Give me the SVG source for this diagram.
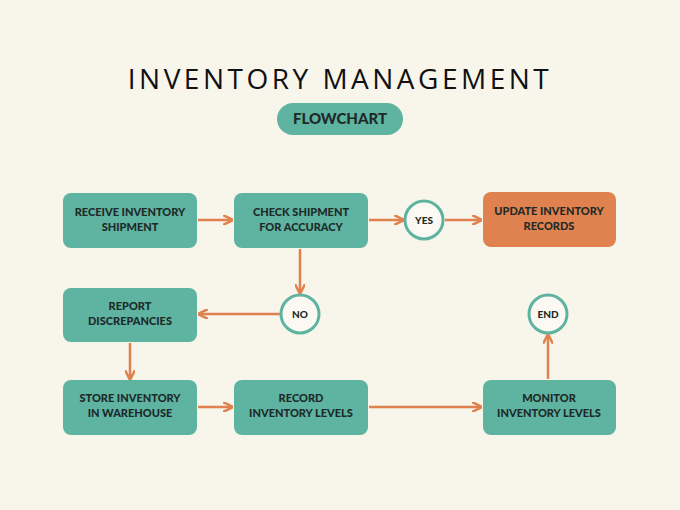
<svg xmlns="http://www.w3.org/2000/svg" width="680" height="510" viewBox="0 0 680 510">
<style>
.box{fill:#5fb3a1}
.t{font-family:"Lato","Liberation Sans",sans-serif;font-weight:900;font-size:11px;fill:#1d2a28;text-anchor:middle}
.s{font-size:10px}
.c{fill:#fbf9f1;stroke:#5fb3a1;stroke-width:3}
.a{stroke:#e0824f;stroke-width:2.5;fill:none;marker-end:url(#ah)}
</style>
<defs><marker id="ah" viewBox="0 0 10 10" refX="8" refY="5" markerWidth="4" markerHeight="4" orient="auto"><path d="M0,0 L10,5 L0,10" fill="none" stroke="#e0824f" stroke-width="2.5"/></marker></defs>
<rect width="680" height="510" fill="#f8f5ea"/>
<text x="340" y="89" font-family="'Open Sans','Liberation Sans',sans-serif" font-size="28" letter-spacing="3.5" text-anchor="middle" fill="#111">INVENTORY MANAGEMENT</text>
<g id="flowchart"><rect x="277" y="103" width="126" height="32" rx="16" class="box"/><text x="340" y="124" class="t" style="font-size:15px">FLOWCHART</text></g>
<g id="receive"><rect x="63" y="193" width="134" height="55" rx="8" class="box"/><text class="t" x="130" y="216">RECEIVE INVENTORY</text><text class="t" x="130" y="231">SHIPMENT</text></g>
<g id="check"><rect x="234" y="193" width="134" height="55" rx="8" class="box"/><text class="t" x="301" y="216">CHECK SHIPMENT</text><text class="t" x="301" y="231">FOR ACCURACY</text></g>
<g id="yes"><circle cx="424" cy="220" r="19" class="c"/><text class="t s" x="424" y="224">YES</text></g>
<g id="update"><rect x="483" y="192" width="133" height="55" rx="8" fill="#e0824f"/><text class="t" x="549" y="215">UPDATE INVENTORY</text><text class="t" x="549" y="230">RECORDS</text></g>
<g id="report"><rect x="63" y="288" width="134" height="54" rx="8" class="box"/><text class="t" x="130" y="310">REPORT</text><text class="t" x="130" y="325">DISCREPANCIES</text></g>
<g id="no"><circle cx="300" cy="314" r="19" class="c"/><text class="t s" x="300" y="318">NO</text></g>
<g id="end"><circle cx="548" cy="314" r="19" class="c"/><text class="t s" x="548" y="318">END</text></g>
<g id="store"><rect x="63" y="380" width="134" height="55" rx="8" class="box"/><text class="t" x="130" y="402">STORE INVENTORY</text><text class="t" x="130" y="417">IN WAREHOUSE</text></g>
<g id="record"><rect x="234" y="380" width="134" height="55" rx="8" class="box"/><text class="t" x="301" y="402">RECORD</text><text class="t" x="301" y="417">INVENTORY LEVELS</text></g>
<g id="monitor"><rect x="483" y="380" width="133" height="55" rx="8" class="box"/><text class="t" x="549" y="402">MONITOR</text><text class="t" x="549" y="417">INVENTORY LEVELS</text></g>
<g id="connectors">
<path class="a" d="M198,220 H231"/>
<path class="a" d="M369,220 H402"/>
<path class="a" d="M445,220 H480"/>
<path class="a" d="M300,249 V292"/>
<path class="a" d="M280,314 H200"/>
<path class="a" d="M130,343 V378"/>
<path class="a" d="M198,407 H231"/>
<path class="a" d="M369,407 H480"/>
<path class="a" d="M548,379 V336"/>
</g>
</svg>
